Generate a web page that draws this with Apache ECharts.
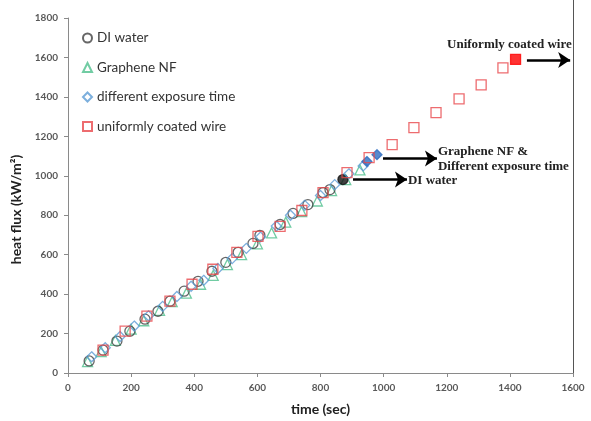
<!DOCTYPE html>
<html><head><meta charset="utf-8">
<script src="https://cdn.jsdelivr.net/npm/echarts@6/dist/echarts.min.js"></script>
<style>html,body{margin:0;padding:0;background:#fff}#c{width:591px;height:421px}</style>
</head><body><div id="c"></div>
<script>
// ---- data ----
const xTicks = [0,200,400,600,800,1000,1200,1400,1600];
const yTicks = [0,200,400,600,800,1000,1200,1400,1600,1800];

const diTime = [67,111,155,196,244,285,323,368,412,456,500,539,586,608,672,713,760,808,830];
const diFlux = [61,116,162,212,273,313,364,415,465,516,561,612,657,698,753,809,854,915,930];
const diFilledTime = [871];
const diFilledFlux = [981];

const gnTime = [62,105,150,200,240,290,330,375,420,460,505,550,600,645,690,740,790,835,880,925];
const gnFlux = [58,108,165,222,265,318,362,405,450,495,550,600,655,710,765,818,872,925,980,1030];

const exTime = [75,118,165,210,255,300,345,390,430,475,520,565,610,660,705,750,800,845,890,935];
const exFlux = [82,128,185,238,290,338,388,440,470,530,580,632,690,745,800,850,900,955,1010,1050];
const exFilledTime = [947,979];
const exFilledFlux = [1072,1107];

const ucTime = [111,181,250,323,393,459,535,602,672,741,808,884,954,1027,1096,1166,1239,1309,1378];
const ucFlux = [116,212,288,364,450,526,612,693,743,824,915,1016,1092,1158,1244,1320,1390,1461,1547];
const ucFilledTime = [1418];
const ucFilledFlux = [1590];

const names = ['DI water','Graphene NF','different exposure time','uniformly coated wire'];

// annotations: [startTime, flux, endTime]
const arrows = [[1454,1587,1591],[998,1087,1169],[903,981,1074]];
const notes = [
  {text:'Uniformly coated wire', t:1201, q:1663},
  {text:'Graphene NF &\nDifferent exposure time', t:1172, q:1082},
  {text:'DI water', t:1077, q:976}
];

const zip = (a,b)=>a.map((v,i)=>[v,b[i]]);
const open = c => ({color:'rgba(255,255,255,0)', borderColor:c, borderWidth:1.3});
const axisLbl = {fontSize:10, color:'#595959', fontWeight:'bold', margin:10, formatter:v=>String(v)};

const chart = echarts.init(document.getElementById('c'));
chart.setOption({
  animation:false,
  textStyle:{fontFamily:'Lato'},
  grid:{left:68,right:18,top:18,bottom:47},
  legend:{
    orient:'vertical', left:77, top:26, itemGap:15.5, itemWidth:9, itemHeight:9,
    textStyle:{fontFamily:'Lato', fontSize:13.5, color:'#333'},
    data:names
  },
  xAxis:{
    type:'value', min:0, max:1600, interval:200,
    name:'time (sec)', nameLocation:'middle', nameGap:29,
    nameTextStyle:{fontFamily:'Lato', fontWeight:'bold', fontSize:14, color:'#222'},
    axisLine:{lineStyle:{color:'#8a8a8a'}}, axisTick:{lineStyle:{color:'#8a8a8a'}, length:4},
    axisLabel:axisLbl,
    splitLine:{show:false}
  },
  yAxis:{
    type:'value', min:0, max:1800, interval:200,
    name:'heat flux (kW/m²)', nameLocation:'middle', nameGap:43,
    nameTextStyle:{fontFamily:'Lato', fontWeight:'bold', fontSize:14, color:'#222', padding:[0,28,0,0]},
    axisLine:{show:true, lineStyle:{color:'#8a8a8a'}}, axisTick:{show:true, lineStyle:{color:'#8a8a8a'}, length:4},
    axisLabel:axisLbl,
    splitLine:{show:false}
  },
  graphic:[{type:'line', shape:{x1:573.5,y1:0,x2:573.5,y2:374}, style:{stroke:'#555', lineWidth:1}}],
  series:[
    {name:names[0], type:'scatter', symbol:'circle', symbolSize:10, itemStyle:open('#404040'),
      data: zip(diTime,diFlux).concat(zip(diFilledTime,diFilledFlux).map(v=>({value:v, itemStyle:{color:'#111',borderColor:'#111'}}))),
      z:3},
    {name:names[1], type:'scatter', symbol:'triangle', symbolSize:10, itemStyle:open('#4DBF8C'),
      data: zip(gnTime,gnFlux), z:2},
    {name:names[2], type:'scatter', symbol:'diamond', symbolSize:10, itemStyle:open('#5B9BD5'),
      data: zip(exTime,exFlux).concat(zip(exFilledTime,exFilledFlux).map(v=>({value:v, itemStyle:{color:'#2E6DC0',borderColor:'#2E6DC0'}}))),
      z:4},
    {name:names[3], type:'scatter', symbol:'rect', symbolSize:10, itemStyle:open('#E8474B'),
      data: zip(ucTime,ucFlux).concat(zip(ucFilledTime,ucFilledFlux).map(v=>({value:v, itemStyle:{color:'#FF0000',borderColor:'#FF0000'}}))),
      z:5,
      markLine:{
        silent:true, symbol:['none','arrow'], symbolSize:[12,12],
        lineStyle:{color:'#000', width:2.5, type:'solid'}, label:{show:false},
        data: arrows.map(a=>[{coord:[a[0],a[1]]},{coord:[a[2],a[1]]}])
      },
      markPoint:{
        silent:true, symbol:'circle', symbolSize:0,
        label:{show:true, position:'right', distance:0, fontFamily:'Liberation Serif', fontWeight:'bold', fontSize:13, color:'#222', lineHeight:15},
        data: notes.map(n=>({coord:[n.t,n.q], label:{formatter:n.text}}))
      }
    }
  ]
});
</script></body></html>
